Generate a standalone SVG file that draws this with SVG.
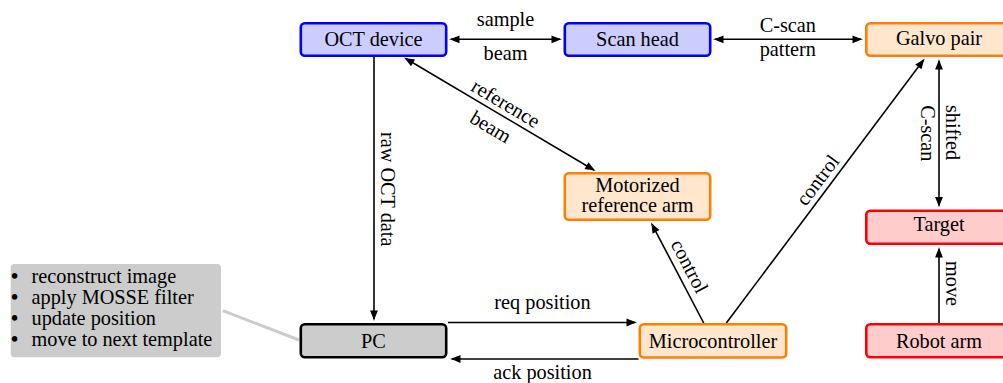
<svg xmlns="http://www.w3.org/2000/svg" width="1003" height="383" viewBox="0 0 1003 383">
<style>
text{font-family:"Liberation Serif","Times New Roman",serif;font-size:20.3px;fill:#000}
.c{text-anchor:middle}
.b{font-weight:bold}
.blue{fill:#ccccff;stroke:#0000ff;stroke-width:2.6}
.orange{fill:#ffe6cc;stroke:#ff8000;stroke-width:2.6}
.red{fill:#ffcccc;stroke:#ff0000;stroke-width:2.6}
.gray{fill:#cccccc;stroke:#000;stroke-width:2.6}
.ln{fill:none;stroke:#000;stroke-width:1.6}
</style>
<defs>
<marker id="ah" markerUnits="userSpaceOnUse" markerWidth="14" markerHeight="10" refX="8.5" refY="4" orient="auto-start-reverse" overflow="visible">
<path d="M0,0.1 C3,1.3 7,3 10.5,4 C7,5 3,6.7 0,7.9 Z" fill="#000"/>
</marker>
</defs>
<rect x="10.7" y="264" width="210.3" height="93.3" rx="4" fill="#cccccc"/>
<g id="note">
<text y="283.3"><tspan class="b" x="11">•</tspan><tspan x="31.5">reconstruct image</tspan></text>
<text y="304.3"><tspan class="b" x="11">•</tspan><tspan x="31.5">apply MOSSE filter</tspan></text>
<text y="325"><tspan class="b" x="11">•</tspan><tspan x="31.5">update position</tspan></text>
<text y="346"><tspan class="b" x="11">•</tspan><tspan x="31.5">move to next template</tspan></text>
</g>
<g id="connectors">
<line x1="222.7" y1="310.7" x2="299" y2="340" stroke="#cccccc" stroke-width="3"/>
<line class="ln" x1="451" y1="39.3" x2="560" y2="39.3" marker-start="url(#ah)" marker-end="url(#ah)"/>
<line class="ln" x1="715" y1="39.3" x2="861" y2="39.3" marker-start="url(#ah)" marker-end="url(#ah)"/>
<line class="ln" x1="374" y1="57" x2="374" y2="319" marker-end="url(#ah)"/>
<line class="ln" x1="405.7" y1="58.5" x2="593.8" y2="170" marker-start="url(#ah)" marker-end="url(#ah)"/>
<line class="ln" x1="939" y1="61" x2="939" y2="205.5" marker-start="url(#ah)" marker-end="url(#ah)"/>
<line class="ln" x1="939" y1="323" x2="939" y2="249" marker-end="url(#ah)"/>
<line class="ln" x1="703.7" y1="323" x2="652" y2="224.3" marker-end="url(#ah)"/>
<line class="ln" x1="726.3" y1="323" x2="923.5" y2="60.1" marker-end="url(#ah)"/>
<line class="ln" x1="448" y1="322.5" x2="635" y2="322.5" marker-end="url(#ah)"/>
<line class="ln" x1="638.5" y1="359" x2="452" y2="359" marker-end="url(#ah)"/>
<text class="c" x="505.5" y="26">sample</text>
<text class="c" x="505.5" y="60">beam</text>
<text class="c" x="787.8" y="31.5">C-scan</text>
<text class="c" x="787.8" y="56">pattern</text>
<text class="c" transform="translate(381,189.2) rotate(90)">raw OCT data</text>
<text class="c" transform="translate(505.8,103.3) rotate(30.74)" y="6.9">reference</text>
<text class="c" transform="translate(490.8,126.7) rotate(30.74)" y="6.9">beam</text>
<text class="c" transform="translate(945.5,132.5) rotate(90)">shifted</text>
<text class="c" transform="translate(921,133.3) rotate(90)">C-scan</text>
<text class="c" transform="translate(945.5,283.5) rotate(90)">move</text>
<text class="c" transform="translate(689.7,266.2) rotate(62.37)" y="6.9">control</text>
<text class="c" transform="translate(817.5,180) rotate(-53.13)" y="6.9">control</text>
<text class="c" x="542.5" y="309">req position</text>
<text class="c" x="542.5" y="379">ack position</text>
</g>
<g id="oct"><rect class="blue" x="300.8" y="23.3" width="145.4" height="32.4" rx="4"/><text class="c" x="373.5" y="46">OCT device</text></g>
<g id="scanhead"><rect class="blue" x="564.8" y="23.3" width="145.4" height="32.4" rx="4"/><text class="c" x="637.5" y="46">Scan head</text></g>
<g id="galvo"><rect class="orange" x="866.3" y="23.3" width="145.4" height="32.4" rx="4"/><text class="c" x="939" y="44.5">Galvo pair</text></g>
<g id="motorized"><rect class="orange" x="564.8" y="173.3" width="145.4" height="46.4" rx="4"/><text class="c" x="637.5" y="191.7">Motorized</text><text class="c" x="637.5" y="211.7">reference arm</text></g>
<g id="target"><rect class="red" x="866.3" y="210.8" width="145.4" height="32.9" rx="4"/><text class="c" x="939" y="231">Target</text></g>
<g id="pc"><rect class="gray" x="300.8" y="324.3" width="145.4" height="32.9" rx="4"/><text class="c" x="373.5" y="348">PC</text></g>
<g id="micro"><rect class="orange" x="639.8" y="324.3" width="146.4" height="33.2" rx="4"/><text class="c" x="713" y="348">Microcontroller</text></g>
<g id="robot"><rect class="red" x="866.3" y="324.3" width="145.4" height="32.9" rx="4"/><text class="c" x="939" y="347.5">Robot arm</text></g>
</svg>
